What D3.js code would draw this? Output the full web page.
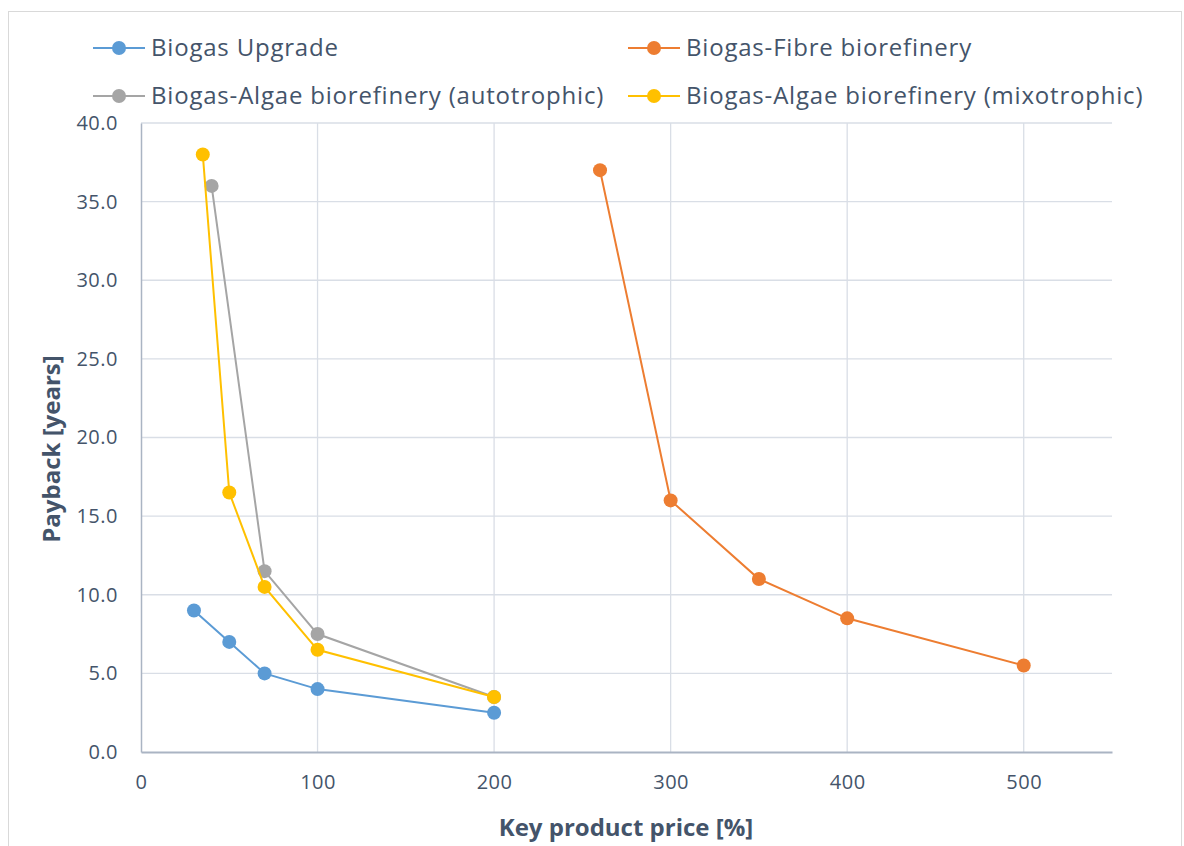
<!DOCTYPE html>
<html><head><meta charset="utf-8">
<script src="https://cdn.jsdelivr.net/npm/d3@7"></script>
<style>body{margin:0;background:#fff}svg{display:block}text{font-family:"Open Sans",sans-serif;fill:#44546a}</style>
</head><body>
<script>
const seriesNames = ["Biogas Upgrade","Biogas-Fibre biorefinery","Biogas-Algae biorefinery (autotrophic)","Biogas-Algae biorefinery (mixotrophic)"];
const seriesColors = ["#5b9bd5","#ed7d31","#a5a5a5","#ffc000"];
const upgradeX = [30,50,70,100,200];
const upgradeY = [9,7,5,4,2.5];
const fibreX = [260,300,350,400,500];
const fibreY = [37,16,11,8.5,5.5];
const autoX = [40,70,100,200];
const autoY = [36,11.5,7.5,3.5];
const mixoX = [35,50,70,100,200];
const mixoY = [38,16.5,10.5,6.5,3.5];
const xTicks = [0,100,200,300,400,500];
const yTicks = [0,5,10,15,20,25,30,35,40];
const xTitle = "Key product price [%]";
const yTitle = "Payback [years]";

const W=1184,H=846;
const svg=d3.select("body").append("svg").attr("width",W).attr("height",H);
svg.append("rect").attr("x",8.5).attr("y",11.5).attr("width",1173).attr("height",850).attr("fill","#fff").attr("stroke","#d9d9d9");

const x=d3.scaleLinear().domain([0,550]).range([141,1112]);
const y=d3.scaleLinear().domain([0,40]).range([752,123]);

// gridlines
svg.append("g").selectAll("line").data(yTicks.filter(d=>d>0)).join("line")
  .attr("x1",x(0)).attr("x2",x(550)).attr("y1",d=>y(d)).attr("y2",d=>y(d))
  .attr("stroke","#d9dee6").attr("stroke-width",1.3);
svg.append("g").selectAll("line").data(xTicks.filter(d=>d>0)).join("line")
  .attr("x1",d=>x(d)).attr("x2",d=>x(d)).attr("y1",y(0)).attr("y2",y(40))
  .attr("stroke","#d9dee6").attr("stroke-width",1.3);

// axes
const xAxis=svg.append("g").attr("transform",`translate(0,${y(0)})`)
  .call(d3.axisBottom(x).tickValues(xTicks).tickSize(0).tickPadding(23).tickFormat(d3.format("d")));
const yAxis=svg.append("g").attr("transform",`translate(${x(0)},0)`)
  .call(d3.axisLeft(y).tickValues(yTicks).tickSize(0).tickPadding(23).tickFormat(d3.format(".1f")));
[xAxis,yAxis].forEach(a=>{a.select(".domain").attr("stroke","#aab4c3").attr("stroke-width",2);
  a.selectAll("text").style("font-size","20px").style("letter-spacing","0.5px").attr("fill","#44546a").style("font-family","'Open Sans',sans-serif");});
yAxis.select(".domain").attr("stroke-width",1.5);

svg.append("text").attr("x",626).attr("y",836).attr("text-anchor","middle")
  .style("font-size","24px").style("font-weight","bold").text(xTitle);
svg.append("text").attr("transform","translate(60,449) rotate(-90)").attr("text-anchor","middle")
  .style("font-size","24px").style("font-weight","bold").text(yTitle);

const data=[[upgradeX,upgradeY],[fibreX,fibreY],[autoX,autoY],[mixoX,mixoY]];
const line=d3.line().x(d=>x(d[0])).y(d=>y(d[1]));
const order=[1,0,2,3];
order.forEach(i=>{
  const pts=data[i][0].map((v,j)=>[v,data[i][1][j]]);
  const g=svg.append("g");
  g.append("path").attr("d",line(pts)).attr("fill","none").attr("stroke",seriesColors[i]).attr("stroke-width",2);
  g.selectAll("circle").data(pts).join("circle").attr("cx",d=>x(d[0])).attr("cy",d=>y(d[1])).attr("r",7)
   .attr("fill",seriesColors[i]);
});

// legend
const legPos=[[93,48],[628,48],[93,96],[628,96]];
seriesNames.forEach((n,i)=>{
  const [lx,ly]=legPos[i];
  const g=svg.append("g");
  g.append("line").attr("x1",lx).attr("x2",lx+52).attr("y1",ly).attr("y2",ly).attr("stroke",seriesColors[i]).attr("stroke-width",2);
  g.append("circle").attr("cx",lx+26).attr("cy",ly).attr("r",7).attr("fill",seriesColors[i]);
  g.append("text").attr("x",lx+58).attr("y",ly).attr("dy","0.35em").style("font-size","24px").style("letter-spacing","0.8px").text(n);
});
</script>
</body></html>
